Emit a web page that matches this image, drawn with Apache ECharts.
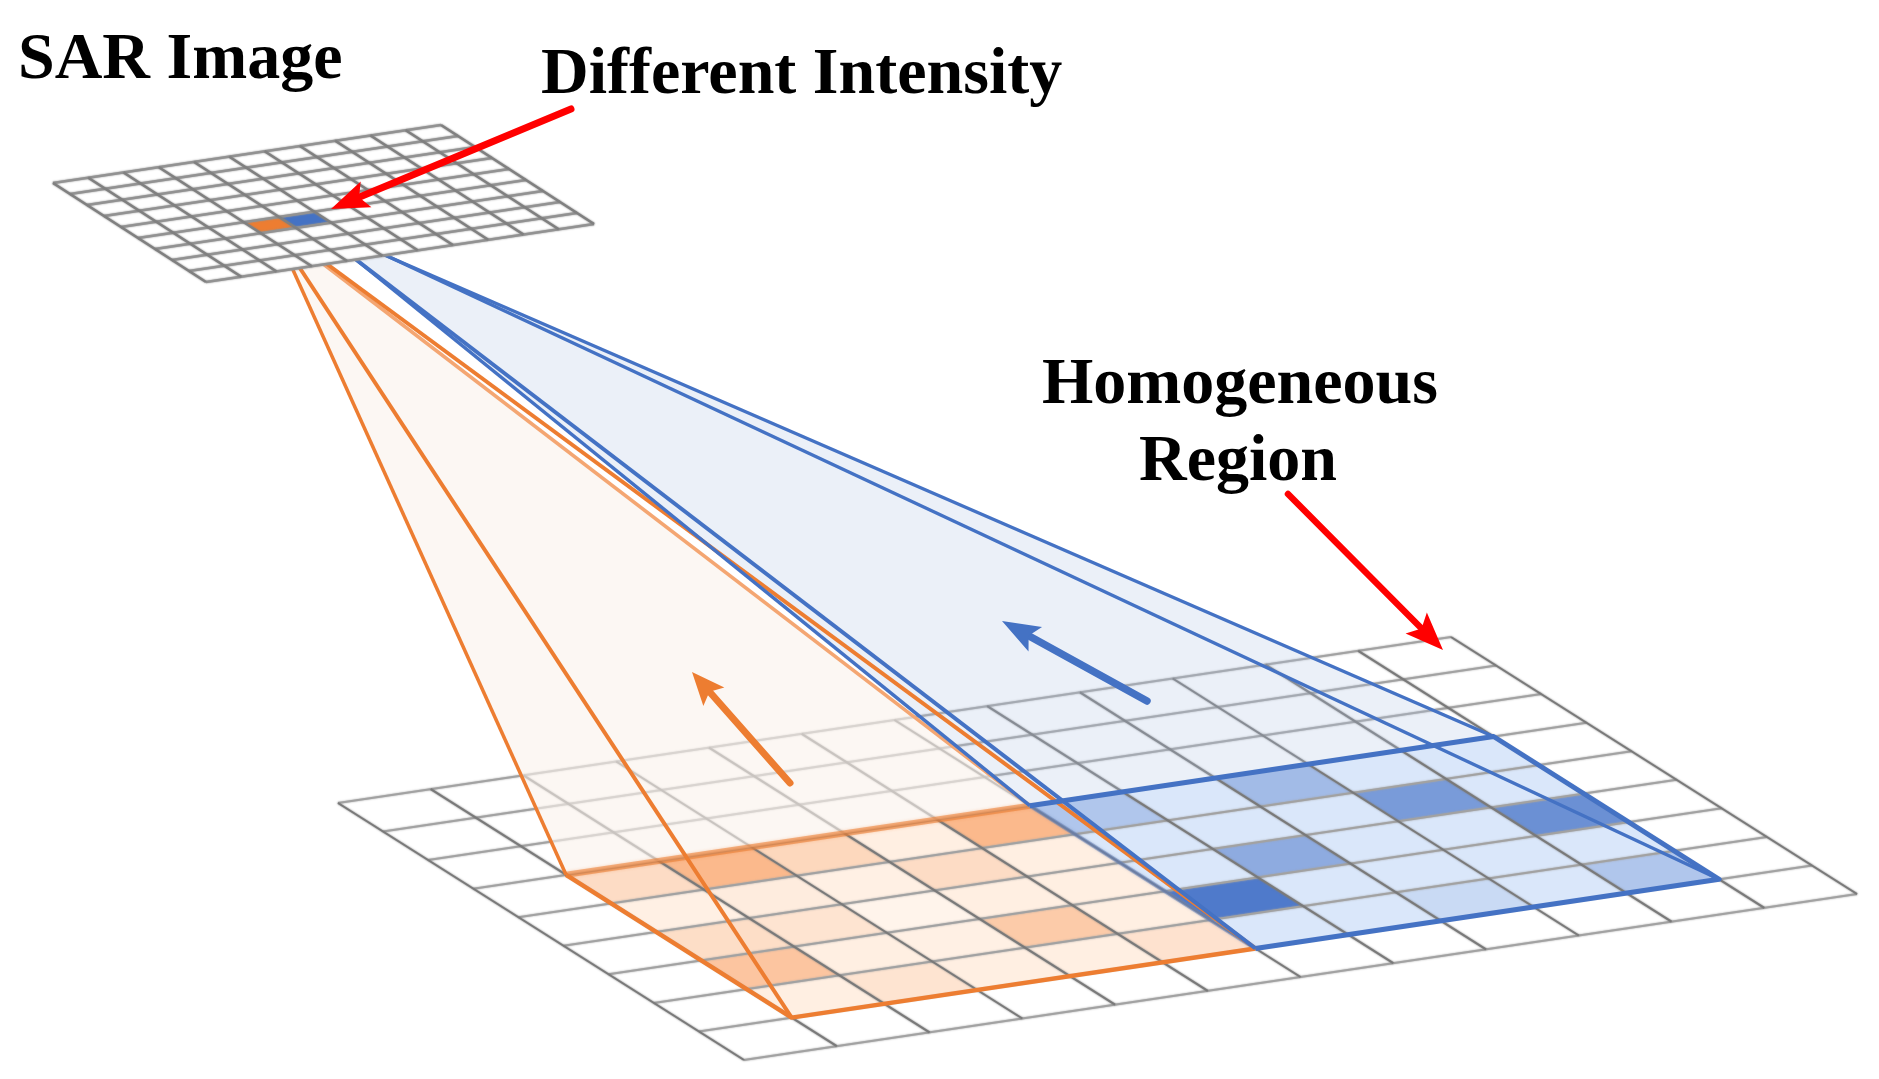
<!DOCTYPE html>
<html>
<head>
<meta charset="utf-8">
<style>
html, body { margin: 0; padding: 0; background: #fff; }
#chart { width: 1879px; height: 1079px; }
</style>
<script src="https://cdn.jsdelivr.net/npm/echarts@6/dist/echarts.min.js"></script>
</head>
<body>
<div id="chart"></div>
<script>
// both sheets are parallelograms: origin, step along one edge, step along the other, cell counts
var largeOrigin = [338, 803];
var largeCorners = [[1451, 637], [744, 1060]];
var largeCells = [12, 9];
var smallOrigin = [53, 183];
var smallCorners = [[441, 125], [206, 282]];
var smallCells = [11, 9];

// first cell of each shaded 5x5 block on the large sheet
var orangeBlock = [1, 3];
var blueBlock = [6, 3];
var orangeIntensity = [
	[0.42, 1, 0.5, 0.12, 1],
	[0.1, 0.16, 0.1, 0.42, 0.12],
	[0.4, 0.3, 0.03, 0.12, 0.12],
	[0.8, 0.12, 0.1, 0.7, 0.12],
	[0.12, 0.3, 0.12, 0.12, 0.32]
];
var blueIntensity = [
	[0.3, 0, 0.4, 0, 0],
	[0, 0, 0, 0.7, 0],
	[0, 0.55, 0, 0, 0.8],
	[1, 0, 0, 0, 0],
	[0, 0, 0.12, 0, 0.3]
];
var smallOrangeCell = [3, 5];
var smallBlueCell = [4, 5];

// where the cone edges start, hidden below the small sheet
var orangeStarts = [[284, 250], [288, 250], [305, 250], [308, 250]];
var blueStarts = [[338, 245], [337, 245], [350, 240], [353, 240]];

var arrowTails = [[571, 109], [1288, 494], [1147, 701], [790, 783]];
var arrowTips = [[331, 209], [1443, 650], [1002, 621], [692, 672]];

var textLabels = ['SAR Image', 'Different Intensity', 'Homogeneous', 'Region'];
var textX = [18, 541, 1240, 1238];
var textY = [94, 109, 419, 496];
var textAlign = ['left', 'left', 'center', 'center'];

var ORANGE = '#ED7D31';
var BLUE = '#4472C4';
var RED = '#FF0000';

function sheetPoint(origin, corners, cells, i, j) {
	return [
		origin[0] + (corners[0][0] - origin[0]) * i / cells[0] + (corners[1][0] - origin[0]) * j / cells[1],
		origin[1] + (corners[0][1] - origin[1]) * i / cells[0] + (corners[1][1] - origin[1]) * j / cells[1]
	];
}
function largePoint(i, j) { return sheetPoint(largeOrigin, largeCorners, largeCells, i, j); }
function smallPoint(i, j) { return sheetPoint(smallOrigin, smallCorners, smallCells, i, j); }

function cellPolygon(pointFn, i, j) {
	return [pointFn(i, j), pointFn(i + 1, j), pointFn(i + 1, j + 1), pointFn(i, j + 1)];
}

// each series item is {points, closed, fill, stroke, width}
function shapeSeries(z, items) {
	return {
		type: 'custom',
		coordinateSystem: 'cartesian2d',
		z: z,
		silent: true,
		clip: false,
		data: items.map(function (it, idx) { return [idx, 0]; }),
		encode: { x: 0, y: 1 },
		renderItem: function (params, api) {
			var it = items[params.dataIndex];
			var pts = it.points.map(function (p) { return api.coord(p); });
			return {
				type: it.closed ? 'polygon' : 'polyline',
				shape: { points: pts },
				style: {
					fill: it.fill || (it.closed ? null : 'none'),
					stroke: it.stroke || null,
					lineWidth: it.width || 0,
					lineCap: it.cap || 'butt',
					lineJoin: 'round',
					shadowBlur: it.soft || 0,
					shadowColor: it.soft ? it.stroke : null
				}
			};
		}
	};
}

function blockCells(block, intensity, ramp) {
	var out = [];
	intensity.forEach(function (row, r) {
		row.forEach(function (v, c) {
			out.push({ points: cellPolygon(largePoint, block[0] + c, block[1] + r), closed: true, fill: echarts.color.lerp(v, ramp) });
		});
	});
	return out;
}

function sheetLines(pointFn, cells, uColor, vColor, width) {
	var out = [];
	for (var j = 0; j <= cells[1]; j++) {
		out.push({ points: [pointFn(0, j), pointFn(cells[0], j)], stroke: uColor, width: width, soft: 2 });
	}
	for (var i = 0; i <= cells[0]; i++) {
		out.push({ points: [pointFn(i, 0), pointFn(i, cells[1])], stroke: vColor, width: width, soft: 2 });
	}
	return out;
}

function arrowShapes(tail, tip, color, width, len, half) {
	var dx = tail[0] - tip[0], dy = tail[1] - tip[1];
	var d = Math.sqrt(dx * dx + dy * dy);
	var ux = dx / d, uy = dy / d;
	var neck = [tip[0] + ux * len * 0.8, tip[1] + uy * len * 0.8];
	return [
		{ points: [tail, neck], stroke: color, width: width, cap: 'round' },
		{
			points: [
				tip,
				[tip[0] + ux * len - uy * half, tip[1] + uy * len + ux * half],
				neck,
				[tip[0] + ux * len + uy * half, tip[1] + uy * len - ux * half]
			],
			closed: true,
			fill: color
		}
	];
}

// base corners on the large sheet
var oA = largePoint(orangeBlock[0], orangeBlock[1]);
var oB = largePoint(orangeBlock[0], orangeBlock[1] + 5);
var oC = largePoint(orangeBlock[0] + 5, orangeBlock[1]);
var oD = largePoint(orangeBlock[0] + 5, orangeBlock[1] + 5);
var bA = largePoint(blueBlock[0], blueBlock[1]);
var bB = largePoint(blueBlock[0], blueBlock[1] + 5);
var bC = largePoint(blueBlock[0] + 5, blueBlock[1]);
var bD = largePoint(blueBlock[0] + 5, blueBlock[1] + 5);

var cells = blockCells(orangeBlock, orangeIntensity, ['#FFF6EE', '#FBB98C'])
	.concat(blockCells(blueBlock, blueIntensity, ['#DAE7FA', '#4F7ACB']));

var coneFills = [
	{ points: [orangeStarts[0], orangeStarts[2], oC, oA], closed: true, fill: 'rgba(250,242,235,0.62)' },
	{ points: [blueStarts[0], blueStarts[2], bC, bA], closed: true, fill: 'rgba(175,195,227,0.25)' }
];

var coneLines = [
	// soft edges of the two bases
	{ points: [oA, oC], stroke: 'rgba(237,125,49,0.55)', width: 6, soft: 3 },
	{ points: [oC, oD], stroke: 'rgba(100,130,190,0.5)', width: 4, soft: 3 },
	// orange cone and base
	{ points: [orangeStarts[2], oC], stroke: '#F4A672', width: 3.5 },
	{ points: [orangeStarts[0], oA], stroke: ORANGE, width: 3.5 },
	{ points: [oA, oB, oD], stroke: ORANGE, width: 4.5 },
	{ points: [orangeStarts[1], oB], stroke: ORANGE, width: 4 },
	{ points: [orangeStarts[3], oD], stroke: ORANGE, width: 4 },
	// blue cone and base
	{ points: [blueStarts[0], bA], stroke: BLUE, width: 3.5 },
	{ points: [blueStarts[1], bB], stroke: BLUE, width: 4 },
	{ points: [blueStarts[2], bC], stroke: BLUE, width: 3.5 },
	{ points: [blueStarts[3], bD], stroke: BLUE, width: 3.5 },
	{ points: [bA, bC, bD, bB], stroke: BLUE, width: 5 }
];

var smallSheet = [
	{ points: [smallPoint(0, 0), smallPoint(smallCells[0], 0), smallPoint(smallCells[0], smallCells[1]), smallPoint(0, smallCells[1])], closed: true, fill: '#fff' },
	{ points: cellPolygon(smallPoint, smallOrangeCell[0], smallOrangeCell[1]), closed: true, fill: ORANGE },
	{ points: cellPolygon(smallPoint, smallBlueCell[0], smallBlueCell[1]), closed: true, fill: BLUE }
].concat(sheetLines(smallPoint, smallCells, '#929292', '#808080', 2.4));

var arrows = []
	.concat(arrowShapes(arrowTails[0], arrowTips[0], RED, 7, 38, 14))
	.concat(arrowShapes(arrowTails[1], arrowTips[1], RED, 6.5, 38, 15))
	.concat(arrowShapes(arrowTails[2], arrowTips[2], BLUE, 7.5, 38, 14))
	.concat(arrowShapes(arrowTails[3], arrowTips[3], ORANGE, 7, 33, 14));

var chart = echarts.init(document.getElementById('chart'));
chart.setOption({
	animation: false,
	backgroundColor: '#fff',
	grid: { left: 0, right: 0, top: 0, bottom: 0 },
	xAxis: { type: 'value', min: 0, max: 1879, show: false },
	yAxis: { type: 'value', min: 0, max: 1079, inverse: true, show: false },
	series: [
		shapeSeries(1, cells),
		shapeSeries(2, sheetLines(largePoint, largeCells, '#a2a2a2', '#7a7a7a', 2)),
		shapeSeries(3, coneFills),
		shapeSeries(4, coneLines),
		shapeSeries(5, smallSheet),
		shapeSeries(6, arrows),
		{
			type: 'custom',
			coordinateSystem: 'cartesian2d',
			z: 7,
			silent: true,
			data: textLabels.map(function (t, i) { return [textX[i], textY[i], t]; }),
			encode: { x: 0, y: 1 },
			renderItem: function (params, api) {
				var p = api.coord([api.value(0), api.value(1)]);
				return {
					type: 'text',
					style: {
						x: p[0],
						y: p[1],
						text: textLabels[params.dataIndex],
						fill: '#000',
						font: 'bold 66px "Liberation Serif"',
						align: textAlign[params.dataIndex],
						verticalAlign: 'bottom'
					}
				};
			}
		}
	]
});
</script>
</body>
</html>
